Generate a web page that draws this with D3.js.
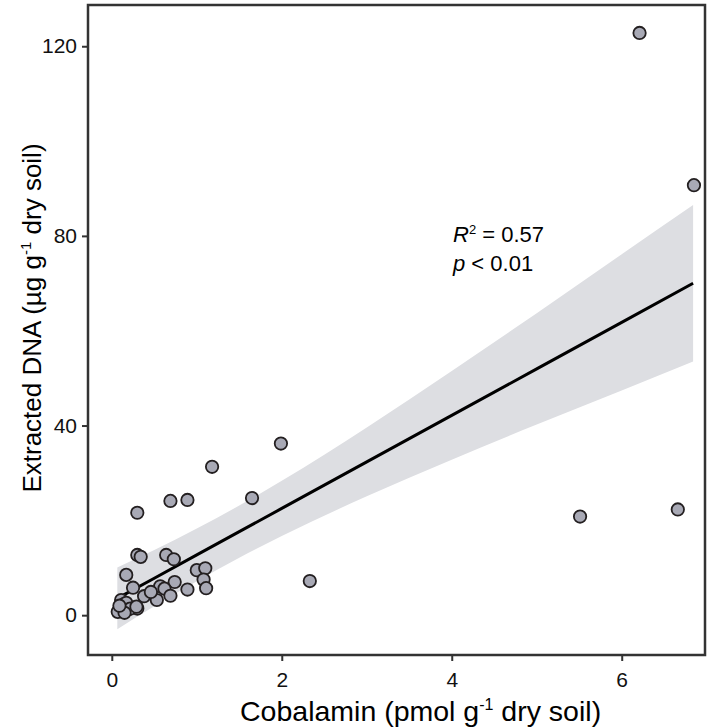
<!DOCTYPE html>
<html>
<head>
<meta charset="utf-8">
<script src="https://cdn.jsdelivr.net/npm/d3@7"></script>
<style>
  body { margin: 0; background: #fff; }
  text { font-family: "Liberation Sans", Arial, sans-serif; }
</style>
</head>
<body>
<script>
// cobalamin (x) vs extracted DNA (y)
let cobalamin = [6.21, 6.85, 5.51, 6.66, 2.33, 1.99, 1.18, 1.65, 0.69, 0.89,
    0.30, 0.30, 0.34, 0.64, 0.73, 0.17, 1.00, 1.10, 1.08, 1.11,
    0.25, 0.74, 0.89, 0.57, 0.62, 0.69, 0.53, 0.38, 0.46, 0.30,
    0.11, 0.14, 0.17, 0.09, 0.07, 0.19, 0.22, 0.15, 0.09, 0.29];
let dna = [122.8, 90.7, 20.8, 22.3, 7.2, 36.2, 31.3, 24.7, 24.1, 24.3,
    21.6, 12.7, 12.3, 12.7, 11.8, 8.5, 9.5, 9.9, 7.5, 5.7,
    5.8, 7.0, 5.4, 6.1, 5.6, 4.1, 3.2, 4.0, 4.9, 1.4,
    3.2, 2.3, 2.6, 1.1, 0.7, 1.2, 1.4, 0.5, 2.0, 1.8];

// fitted line and 95% band as drawn
let fitX = [0.065, 0.5, 1.0, 1.5, 2.0, 3.0, 4.0, 5.0, 6.0, 6.84];
let fitY = [3.54, 7.8, 12.71, 17.62, 22.52, 32.33, 42.14, 51.95, 61.76, 70.0];
let bandLo = [-2.96, 1.87, 7.16, 12.11, 16.70, 25.07, 32.79, 40.2, 47.39, 53.5];
let bandHi = [10.04, 13.73, 18.26, 23.13, 28.34, 39.59, 51.49, 63.7, 76.13, 86.5];

let xTicks = [0, 2, 4, 6];
let yTicks = [0, 40, 80, 120];

let W = 718, H = 727;
let mLeft = 88, mRight = 705, mTop = 5, mBottom = 655;

let svg = d3.select('body').append('svg')
    .attr('width', W).attr('height', H);

let x = d3.scaleLinear().domain([-0.28, 6.98]).range([mLeft, mRight]);
let y = d3.scaleLinear().domain([-8.4, 128.7]).range([mBottom, mTop]);

// band
let band = fitX.map((d, i) => ({x: d, lo: bandLo[i], hi: bandHi[i]}));
svg.append('path')
    .datum(band)
    .attr('d', d3.area().x(d => x(d.x)).y0(d => y(d.lo)).y1(d => y(d.hi)).curve(d3.curveMonotoneX))
    .attr('fill', '#dddee2');

// fit line
svg.append('path')
    .datum(fitX.map((d, i) => [d, fitY[i]]))
    .attr('d', d3.line().x(d => x(d[0])).y(d => y(d[1])))
    .attr('fill', 'none')
    .attr('stroke', '#000')
    .attr('stroke-width', 3);

// points
svg.selectAll('circle.pt')
    .data(cobalamin.map((d, i) => [d, dna[i]]))
    .enter().append('circle')
    .attr('class', 'pt')
    .attr('cx', d => x(d[0]))
    .attr('cy', d => y(d[1]))
    .attr('r', 6.2)
    .attr('fill', '#a8a9b5')
    .attr('stroke', '#231f20')
    .attr('stroke-width', 1.8);

// axes
let xAxis = svg.append('g')
    .attr('transform', `translate(0,${mBottom})`)
    .call(d3.axisBottom(x).tickValues(xTicks).tickSize(6).tickPadding(11));
let yAxis = svg.append('g')
    .attr('transform', `translate(${mLeft},0)`)
    .call(d3.axisLeft(y).tickValues(yTicks).tickSize(6).tickPadding(5));

[xAxis, yAxis].forEach(g => {
    g.select('.domain').remove();
    g.selectAll('line').attr('stroke', '#333').attr('stroke-width', 2);
    g.selectAll('text').attr('fill', '#111').style('font-size', '21px')
        .style('font-family', '"Liberation Sans", Arial, sans-serif');
});

// panel border
svg.append('rect')
    .attr('x', mLeft).attr('y', mTop)
    .attr('width', mRight - mLeft).attr('height', mBottom - mTop)
    .attr('fill', 'none')
    .attr('stroke', '#333')
    .attr('stroke-width', 2.5);

// axis titles
let xt = svg.append('text')
    .attr('x', 240).attr('y', 721)
    .attr('text-anchor', 'start')
    .style('font-size', '28.5px').attr('fill', '#000');
xt.append('tspan').text('Cobalamin (pmol g');
xt.append('tspan').text('-1').attr('dy', -11).style('font-size', '16px');
xt.append('tspan').text(' dry soil)').attr('dy', 11);

let yt = svg.append('text')
    .attr('transform', `translate(41,318) rotate(-90)`)
    .attr('text-anchor', 'middle')
    .style('font-size', '26px').attr('fill', '#000');
yt.append('tspan').text('Extracted DNA (µg g');
yt.append('tspan').text('-1').attr('dy', -10).style('font-size', '15px');
yt.append('tspan').text(' dry soil)').attr('dy', 10);

// annotation
let a1 = svg.append('text').attr('x', 453).attr('y', 242)
    .style('font-size', '22px').attr('fill', '#000');
a1.append('tspan').text('R').style('font-style', 'italic');
a1.append('tspan').text('2').attr('dy', -8).style('font-size', '13px');
a1.append('tspan').text(' = 0.57').attr('dy', 8);

let a2 = svg.append('text').attr('x', 453).attr('y', 271)
    .style('font-size', '22px').attr('fill', '#000');
a2.append('tspan').text('p').style('font-style', 'italic');
a2.append('tspan').text(' < 0.01');
</script>
</body>
</html>
